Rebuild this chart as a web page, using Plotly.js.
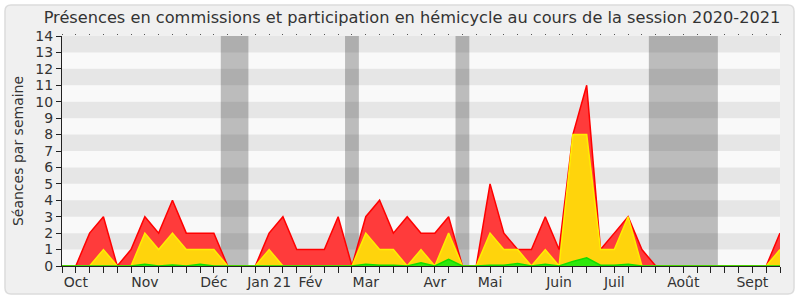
<!DOCTYPE html>
<html>
<head>
<meta charset="utf-8">
<script src="https://cdn.plot.ly/plotly-3.0.1.min.js"></script>
<style>html,body{margin:0;padding:0;background:#fff;}#chart{width:800px;height:300px;}</style>
</head>
<body>
<div id="chart"></div>
<script>
// Week index 0..52 (session 2020-2021)
const weeks = Array.from({length: 53}, (_, i) => i);
const totalSeances = [0,0,2,3,0,1,3,2,4,2,2,2,0, 0,0,2,3,1,1,1,3,0, 3,4,2,3,2,2,3,0,0, 5,2,1,1,3,1,8,11,1,2,3,1, 0,0,0,0,0,0,0,0,0, 2];
const commission   = [0,0,0,1,0,0,2,1,2,1,1,1,0, 0,0,1,0,0,0,0,0,0, 2,1,1,0,1,0,2,0,0, 2,1,1,0,1,0,8,8,1,1,3,0, 0,0,0,0,0,0,0,0,0, 1];
const hemicycle    = [0,0,0,0,0,0,0.1,0,0.06,0,0.1,0,0, 0,0,0,0,0,0,0,0,0, 0.1,0.05,0.05,0,0.2,0,0.4,0,0, 0.05,0.05,0.15,0,0.1,0,0.28,0.5,0.05,0.05,0.1,0, 0,0,0,0,0,0,0,0,0, 0];
const monthPos    = [1,6,11,15,18,22,27,31,36,40,45,50];
const monthLabels = ["Oct","Nov","Déc","Jan 21","Fév","Mar","Avr","Mai","Juin","Juil","Août","Sept"];
const vacations   = [[11.5,13.5],[20.5,21.5],[28.5,29.5],[42.5,47.5]];
const yTicks = Array.from({length: 15}, (_, i) => i);

const W = 800, H = 300, ML = 62, MR = 20, MT = 36, MB = 34;
const PW = W - ML - MR, PH = H - MT - MB;
const px2x = p => (p - ML) / PW;
const px2y = p => (H - MB - p) / PH;

const shapes = [];
// outer rounded frame
(function(){
  const x0 = 5, y0 = 5, x1 = 794, y1 = 294, r = 6;
  const X = px2x, Y = px2y;
  const path = `M ${X(x0+r)},${Y(y0)} L ${X(x1-r)},${Y(y0)} Q ${X(x1)},${Y(y0)} ${X(x1)},${Y(y0+r)} L ${X(x1)},${Y(y1-r)} Q ${X(x1)},${Y(y1)} ${X(x1-r)},${Y(y1)} L ${X(x0+r)},${Y(y1)} Q ${X(x0)},${Y(y1)} ${X(x0)},${Y(y1-r)} L ${X(x0)},${Y(y0+r)} Q ${X(x0)},${Y(y0)} ${X(x0+r)},${Y(y0)} Z`;
  shapes.push({type:'path', xref:'paper', yref:'paper', path, fillcolor:'#f0f0f0', line:{color:'#dcdcdc', width:1.5}, layer:'below'});
})();
// plot background
shapes.push({type:'rect', xref:'paper', yref:'paper', x0:0, x1:1, y0:0, y1:1, fillcolor:'#f9f9f9', line:{width:0}, layer:'below'});
// vacation bands
vacations.forEach(v => shapes.push({type:'rect', xref:'x', yref:'paper', x0:v[0], x1:v[1], y0:0, y1:1, fillcolor:'#bcbcbc', line:{width:0}, layer:'below'}));
// horizontal stripes
for (let k = 1; k < 14; k += 2) {
  shapes.push({type:'rect', xref:'paper', yref:'y', x0:0, x1:1, y0:k, y1:k+1, fillcolor:'rgba(0,0,0,0.075)', line:{width:0}, layer:'below'});
}

const traces = [
  {x: weeks, y: totalSeances, type:'scatter', mode:'lines', fill:'tozeroy', fillcolor:'#ff3b3b', line:{color:'#ff0000', width:1.5}, hoverinfo:'skip'},
  {x: weeks, y: commission, type:'scatter', mode:'lines', fill:'tozeroy', fillcolor:'#ffd40c', line:{color:'#ffee00', width:1.5}, hoverinfo:'skip'},
  {x: weeks, y: hemicycle, type:'scatter', mode:'lines', fill:'tozeroy', fillcolor:'#2fe80c', line:{color:'#11dd00', width:1.5}, hoverinfo:'skip'},
  {x: weeks, y: weeks.map(() => null), xaxis:'x2', type:'scatter', mode:'lines', hoverinfo:'skip', showlegend:false}
];

const font = {family:'DejaVu Sans, Verdana, sans-serif', color:'#333', size:14};

const layout = {
  width: W, height: H,
  margin: {l: ML, r: MR, t: MT, b: MB, pad: 0},
  paper_bgcolor: '#ffffff',
  plot_bgcolor: 'rgba(0,0,0,0)',
  showlegend: false,
  font: font,
  title: {text: 'Présences en commissions et participation en hémicycle au cours de la session 2020-2021',
          font: {family: font.family, size: 16.2, color: '#333'}, x: 0.515, xanchor: 'center', y: 0.943, yref: 'container', yanchor: 'middle'},
  xaxis: {range: [0, 52], tickmode: 'array', tickvals: monthPos, ticktext: monthLabels,
          ticks: 'outside', ticklen: 6, tickcolor: '#222', tickfont: {size: 14, color: '#333'}, ticklabelstandoff: -3,
          minor: {tick0: 0, dtick: 1, ticks: 'outside', ticklen: 6, tickcolor: '#222', showgrid: false},
          showline: true, linecolor: '#222', linewidth: 1, showgrid: false, zeroline: false, fixedrange: true},
  xaxis2: {range: [0, 52], overlaying: 'x', side: 'top', tickmode: 'linear', tick0: 0, dtick: 1,
           ticks: 'outside', ticklen: 1.5, tickcolor: '#555', showticklabels: false, showline: false, showgrid: false, zeroline: false},
  yaxis: {range: [0, 14], tickmode: 'array', tickvals: yTicks, ticks: 'outside', ticklen: 5, tickcolor: '#222',
          tickfont: {size: 14, color: '#333'}, showline: true, linecolor: '#222', linewidth: 1,
          showgrid: false, zeroline: false, fixedrange: true,
          title: {text: 'Séances par semaine', font: {size: 14, color: '#333'}, standoff: 8}},
  shapes: shapes
};

Plotly.newPlot('chart', traces, layout, {staticPlot: true, displayModeBar: false});
</script>
</body>
</html>
